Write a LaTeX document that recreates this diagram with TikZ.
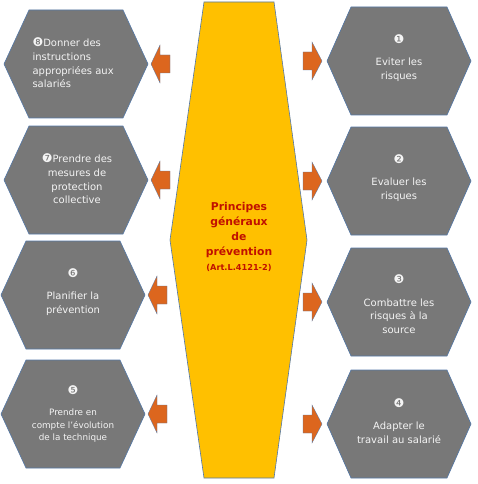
\documentclass[tikz,border=0pt]{standalone}
\usepackage{fontspec}
\setmainfont{DejaVu Sans}
\usepackage{xcolor}
\usetikzlibrary{positioning}
\definecolor{hexgray}{RGB}{120,120,120}
\definecolor{hexline}{RGB}{84,120,168}
\definecolor{gold}{RGB}{255,192,0}
\definecolor{arroworange}{RGB}{220,102,30}
\definecolor{titlered}{RGB}{192,16,0}
\definecolor{softwhite}{RGB}{244,244,244}
\newcommand{\numb}[1]{{\fontsize{12}{12}\selectfont #1}}

\begin{document}
\begin{tikzpicture}[x=1pt,y=-1pt,
  hexa/.style={fill=hexgray,draw=hexline,line width=0.6pt},
  blockarr/.style={fill=arroworange,draw=hexline,line width=0.3pt},
  hextext/.style={text=softwhite,align=center,font=\fontsize{10}{13.7}\selectfont}]
\useasboundingbox (0,0) rectangle (478,484);
% centre
\draw[fill=gold,draw=hexline,line width=0.6pt] (204,2) -- (274,2) -- (307,240) -- (274,478)
   -- (204,478) -- (170,240) -- cycle;
\node[text=titlered,align=center,font=\bfseries\fontsize{10.8}{15}\selectfont] (centre) at (239,237)
   {Principes\\généraux\\de\\prévention\\{\fontsize{8.2}{10}\selectfont(Art.L.4121-2)}};
% right column
\foreach \cy in {61,181,302,424} {
\begin{scope}[shift={(399,\cy)}]
\draw[hexa] (-72,0) -- (-48,-54) -- (48,-54) -- (72,0) -- (48,54) -- (-48,54) -- cycle;
\draw[blockarr] (-96,-9) -- (-87,-9) -- (-87,-19) -- (-77,0) -- (-87,19) -- (-87,9) -- (-96,9) -- cycle;
\end{scope}
}
% left column
\foreach \cx/\cy in {76/64,76/180,73/295,73/414} {
\begin{scope}[shift={(\cx,\cy)}]
\draw[hexa] (-72,0) -- (-47,-54) -- (47,-54) -- (72,0) -- (47,54) -- (-47,54) -- cycle;
\draw[blockarr] (94,-9) -- (84,-9) -- (84,-19) -- (75,0) -- (84,19) -- (84,9) -- (94,9) -- cycle;
\end{scope}
}
\node[hextext] (p1) at (399,58) {\numb{❶}\\[9pt]Eviter les\\risques};
\node[hextext] (p2) at (399,178) {\numb{❷}\\[9pt]Evaluer les\\risques};
\node[hextext] (p3) at (399,304) {\numb{❸}\\[9pt]Combattre les\\risques à la\\source};
\node[hextext] (p4) at (399,421) {\numb{❹}\\[9pt]Adapter le\\travail au salarié};
\node[hextext,font=\fontsize{8.8}{12.5}\selectfont] (p5) at (73,414) {\numb{❺}\\[9pt]Prendre en\\compte l’évolution\\de la technique};
\node[hextext] (p6) at (73,292) {\numb{❻}\\[9pt]Planifier la\\prévention};
\node[hextext] (p7) at (77,179) {\numb{❼}Prendre des\\mesures de\\protection\\collective};
\node[hextext,align=left,anchor=west] (p8) at (29,63) {\numb{❽}Donner des\\instructions\\appropriées aux\\salariés};
\end{tikzpicture}
\end{document}
